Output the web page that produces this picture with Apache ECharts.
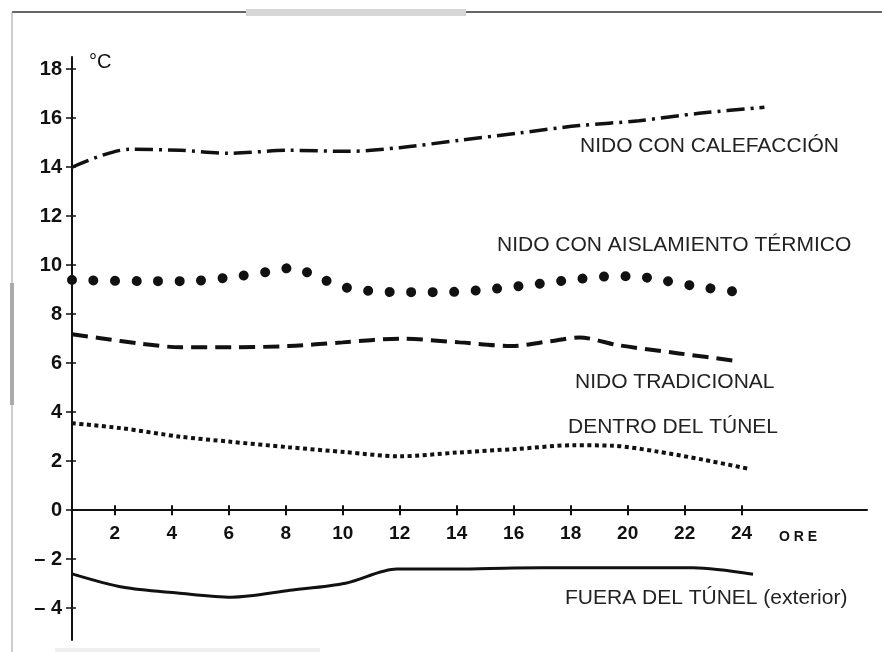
<!DOCTYPE html>
<html>
<head>
<meta charset="utf-8">
<script src="https://cdn.jsdelivr.net/npm/echarts@6/dist/echarts.min.js"></script>
<style>html,body{margin:0;padding:0;background:#fff}#c{width:882px;height:652px}</style>
</head>
<body>
<div id="c"></div>
<script>
// ---- data (hours, °C) ----
const xTicks = [2,4,6,8,10,12,14,16,18,20,22,24];
const yTicks = [-4,-2,0,2,4,6,8,10,12,14,16,18];

const calefHours = [0.5, 2.5, 4.3, 6.0, 8.1, 10.2, 12.0, 14.1, 16.2, 18.3, 20.4, 22.5, 24.8];
const calefTemp  = [14.0, 14.73, 14.69, 14.57, 14.69, 14.65, 14.8, 15.1, 15.4, 15.7, 15.9, 16.2, 16.45];

const aislHours = [0.5, 3.0, 4.5, 6.0, 7.5, 8.25, 9.05, 9.8, 10.5, 12.0, 13.5, 15.0, 16.6, 18.0, 19.5, 20.2, 21.0, 22.4, 23.9];
const aislTemp  = [9.4, 9.35, 9.35, 9.5, 9.75, 9.9, 9.55, 9.2, 9.0, 8.9, 8.9, 9.0, 9.2, 9.4, 9.55, 9.55, 9.43, 9.14, 8.9];

const tradHours = [0.5, 1.5, 2.9, 4.3, 6.1, 8.1, 10.0, 12.0, 14.1, 15.9, 17.3, 18.3, 19.7, 21.8, 23.9];
const tradTemp  = [7.18, 7.02, 6.8, 6.65, 6.65, 6.7, 6.85, 7.0, 6.85, 6.7, 6.9, 7.05, 6.73, 6.4, 6.08];

const dentroHours = [0.5, 2.2, 4.3, 6.0, 8.1, 10.1, 12.0, 14.0, 16.1, 18.1, 19.5, 21.0, 22.7, 24.2];
const dentroTemp  = [3.55, 3.35, 3.0, 2.8, 2.57, 2.37, 2.2, 2.35, 2.5, 2.65, 2.63, 2.4, 2.05, 1.7];

const fueraHours = [0.5, 2.3, 4.2, 6.1, 8.15, 10.1, 11.9, 14.0, 16.0, 18.0, 20.0, 22.3, 24.4];
const fueraTemp  = [-2.6, -3.15, -3.38, -3.55, -3.27, -2.98, -2.4, -2.4, -2.36, -2.35, -2.35, -2.35, -2.62];

const seriesNames = ['NIDO CON CALEFACCIÓN','NIDO CON AISLAMIENTO TÉRMICO','NIDO TRADICIONAL','DENTRO DEL TÚNEL','FUERA DEL TÚNEL (exterior)'];

const pairs = (h, v) => h.map((x, i) => [x, v[i]]);
const FONT = '"Liberation Sans", Arial, Helvetica, sans-serif';
const INK = '#111';
const Y_MIN = -5.3, Y_MAX = 18.5;
const GRID_TOP = 57, GRID_BOTTOM = 12, H = 652;
// pixel distance from grid bottom up to the zero line (keeps x axis on y = 0)
const zeroOffset = (0 - Y_MIN) / (Y_MAX - Y_MIN) * (H - GRID_TOP - GRID_BOTTOM);

const xBase = {
  type: 'value', min: 0.5, max: 28.4, position: 'bottom', offset: -zeroOffset,
  splitLine: {show: false}
};
const yBase = {
  type: 'value', min: Y_MIN, max: Y_MAX, position: 'left',
  splitLine: {show: false}
};

const chart = echarts.init(document.getElementById('c'), null, {renderer: 'canvas'});
chart.setOption({
  animation: false,
  backgroundColor: '#fff',
  grid: {left: 72, right: 15, top: GRID_TOP, bottom: GRID_BOTTOM, outerBoundsMode: 'none', containLabel: false},
  xAxis: [
    Object.assign({}, xBase, {
      axisLine: {onZero: false, lineStyle: {color: INK, width: 2}},
      axisTick: {customValues: xTicks, inside: false, length: 5, lineStyle: {color: INK, width: 2}},
      axisLabel: {customValues: xTicks, margin: 14, color: INK, fontFamily: FONT, fontWeight: 'bold', fontSize: 19}
    }),
    Object.assign({}, xBase, {
      axisLine: {show: false, onZero: false},
      axisTick: {customValues: xTicks, inside: true, length: 5, lineStyle: {color: INK, width: 2}},
      axisLabel: {show: false}
    })
  ],
  yAxis: [
    Object.assign({}, yBase, {
      axisLine: {show: true, onZero: false, lineStyle: {color: INK, width: 2}},
      axisTick: {customValues: yTicks, length: 6, lineStyle: {color: INK, width: 1.5}},
      axisLabel: {customValues: yTicks, margin: 10, color: INK, fontFamily: FONT, fontWeight: 'bold', fontSize: 20,
        formatter: v => v < 0 ? '– ' + Math.abs(v) : String(v)}
    }),
    Object.assign({}, yBase, {
      axisLine: {show: false, onZero: false},
      axisTick: {customValues: yTicks, inside: true, length: 4, lineStyle: {color: INK, width: 1.5}},
      axisLabel: {show: false}
    })
  ],
  series: [
    {name: seriesNames[0], type: 'line', data: pairs(calefHours, calefTemp), symbol: 'none', smooth: 0.3,
     lineStyle: {color: INK, width: 3.5, type: [18, 6, 3, 6]}},
    {name: seriesNames[1], type: 'line', data: pairs(aislHours, aislTemp), symbol: 'none', smooth: 0.3,
     lineStyle: {color: INK, width: 10, type: [0.01, 21.5], cap: 'round'}},
    {name: seriesNames[2], type: 'line', data: pairs(tradHours, tradTemp), symbol: 'none', smooth: 0.3,
     lineStyle: {color: INK, width: 4, type: [16, 8]}},
    {name: seriesNames[3], type: 'line', data: pairs(dentroHours, dentroTemp), symbol: 'none', smooth: 0.3,
     lineStyle: {color: INK, width: 4, type: [4, 3.5]}},
    {name: seriesNames[4], type: 'line', data: pairs(fueraHours, fueraTemp), symbol: 'none', smooth: 0.3,
     lineStyle: {color: INK, width: 3}}
  ],
  graphic: [
    // scanned page frame
    {type: 'line', shape: {x1: 12, y1: 12, x2: 882, y2: 12}, style: {stroke: '#333', lineWidth: 1.5}},
    {type: 'rect', shape: {x: 246, y: 9, width: 220, height: 7}, style: {fill: '#d6d6d6'}},
    {type: 'line', shape: {x1: 12, y1: 12, x2: 12, y2: 652}, style: {stroke: '#999', lineWidth: 1}},
    {type: 'rect', shape: {x: 10, y: 283, width: 4, height: 122}, style: {fill: '#aaa'}},
    {type: 'rect', shape: {x: 55, y: 648, width: 265, height: 4}, style: {fill: '#eee'}},
    // axis titles
    {type: 'text', left: 89, top: 52, style: {text: '°C', font: '20px ' + FONT, fill: INK}},
    {type: 'text', left: 779, top: 530, style: {text: 'O R E', font: 'bold 14px ' + FONT, fill: INK}},
    // series labels
    {type: 'text', left: 580, top: 136, style: {text: seriesNames[0], font: '21px ' + FONT, fill: '#222'}},
    {type: 'text', left: 497, top: 235, style: {text: seriesNames[1], font: '21px ' + FONT, fill: '#222'}},
    {type: 'text', left: 575, top: 372, style: {text: seriesNames[2], font: '21px ' + FONT, fill: '#222'}},
    {type: 'text', left: 568, top: 417, style: {text: seriesNames[3], font: '21px ' + FONT, fill: '#222'}},
    {type: 'text', left: 565, top: 588, style: {text: seriesNames[4], font: '21px ' + FONT, fill: '#222'}}
  ]
});
</script>
</body>
</html>
